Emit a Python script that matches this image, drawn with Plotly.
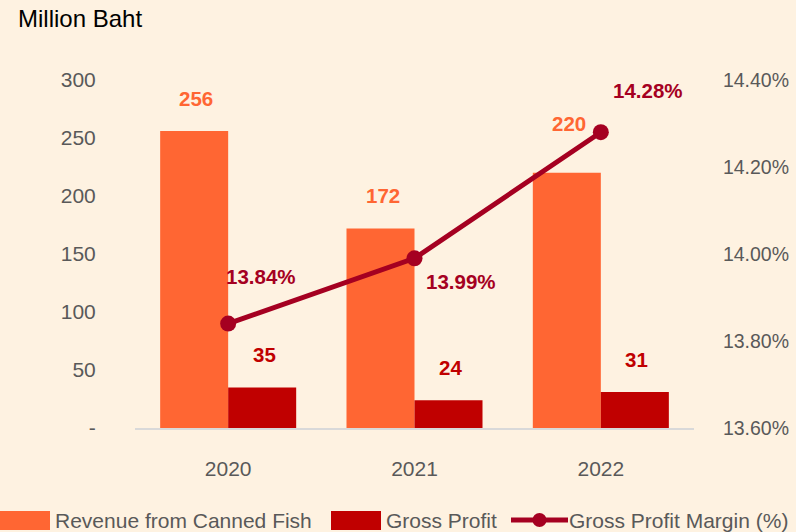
import plotly.graph_objects as go

years = ["2020", "2021", "2022"]
revenue = [256, 172, 220]
gross_profit = [35, 24, 31]
margin = [13.84, 13.99, 14.28]
left_ticks = [0, 50, 100, 150, 200, 250, 300]
left_tick_text = ["-", "50", "100", "150", "200", "250", "300"]
right_ticks = [13.6, 13.8, 14.0, 14.2, 14.4]
right_tick_text = ["13.60%", "13.80%", "14.00%", "14.20%", "14.40%"]

ORANGE = "#FF6633"
DARKRED = "#C00000"
LINE = "#A50021"
BG = "#FEF2E1"
GRAY = "#595959"
FONT = "Liberation Sans"
TICK_SIZE = 21
RIGHT_TICK_SIZE = 19.5
LABEL_SIZE = 20.5

fig = go.Figure()
fig.add_trace(go.Bar(x=years, y=revenue, name="Revenue from Canned Fish",
                     marker=dict(color=ORANGE, line=dict(width=0)), showlegend=False))
fig.add_trace(go.Bar(x=years, y=gross_profit, name="Gross Profit",
                     marker=dict(color=DARKRED, line=dict(width=0)), showlegend=False))
fig.add_trace(go.Scatter(x=years, y=margin, name="Gross Profit Margin (%)", yaxis="y2",
                         mode="lines+markers", line=dict(color=LINE, width=5),
                         marker=dict(color=LINE, size=16), showlegend=False))

W, H = 796, 532
ml, mr, mt, mb = 135, 102, 80, 104
pw, ph = W - ml - mr, H - mt - mb


def px_x(p):
    return (p - ml) / pw


def px_y(p):
    return (H - mb - p) / ph


ann = []
rev_yshift = [33, 33, 49]
for i, v in enumerate(revenue):
    ann.append(dict(x=i, y=v, xref="x", yref="y", text=f"<b>{v}</b>", showarrow=False,
                    xshift=-32, yshift=rev_yshift[i],
                    font=dict(color=ORANGE, size=LABEL_SIZE, family=FONT)))
for i, v in enumerate(gross_profit):
    ann.append(dict(x=i, y=v, xref="x", yref="y", text=f"<b>{v}</b>", showarrow=False,
                    xshift=36, yshift=33, font=dict(color=DARKRED, size=LABEL_SIZE, family=FONT)))
m_shift = [(33, 47), (46, -23), (47, 42)]
for i, (v, (dx, dy)) in enumerate(zip(margin, m_shift)):
    ann.append(dict(x=i, y=v, xref="x", yref="y2", text=f"<b>{v:.2f}%</b>", showarrow=False,
                    xshift=dx, yshift=dy, font=dict(color=LINE, size=LABEL_SIZE, family=FONT)))

ann.append(dict(x=px_x(16), y=px_y(19), xref="paper", yref="paper", text="Million Baht",
                showarrow=False, xanchor="left", yanchor="middle",
                font=dict(color="#000000", size=24, family=FONT)))

shapes = []
legend_items = [("rect", ORANGE, "Revenue from Canned Fish", 0, 50, 53),
                ("rect", DARKRED, "Gross Profit", 331, 381, 384),
                ("line", LINE, "Gross Profit Margin (%)", 511, 568, 567)]
for kind, col, text, x0, x1, tx in legend_items:
    if kind == "rect":
        shapes.append(dict(type="rect", xref="paper", yref="paper", x0=px_x(x0), x1=px_x(x1),
                           y0=px_y(530), y1=px_y(511), fillcolor=col, line=dict(width=0)))
    else:
        shapes.append(dict(type="line", xref="paper", yref="paper", x0=px_x(x0), x1=px_x(x1),
                           y0=px_y(520), y1=px_y(520), line=dict(color=col, width=5)))
        cx = (x0 + x1) / 2
        shapes.append(dict(type="circle", xref="paper", yref="paper", x0=px_x(cx - 7), x1=px_x(cx + 7),
                           y0=px_y(527), y1=px_y(513), fillcolor=col, line=dict(width=0)))
    ann.append(dict(x=px_x(tx), y=px_y(520), xref="paper", yref="paper", text=text, showarrow=False,
                    xanchor="left", yanchor="middle",
                    font=dict(color=GRAY, size=TICK_SIZE, family=FONT)))

fig.update_layout(
    width=W, height=H,
    margin=dict(l=ml, r=mr, t=mt, b=mb, autoexpand=False),
    paper_bgcolor=BG, plot_bgcolor=BG,
    barmode="group", bargap=0.27, bargroupgap=0,
    font=dict(family=FONT, color=GRAY, size=TICK_SIZE),
    xaxis=dict(type="category", range=[-0.5, 2.5], showgrid=False, showline=True,
               linecolor="#D9D9D9", linewidth=2, automargin=False,
               ticks="outside", ticklen=21, tickcolor="rgba(0,0,0,0)",
               tickfont=dict(size=TICK_SIZE, color=GRAY)),
    yaxis=dict(range=[0, 300], tickvals=left_ticks, ticktext=left_tick_text, showgrid=False,
               zeroline=False, showline=False, ticks="outside", ticklen=34, automargin=False,
               tickcolor="rgba(0,0,0,0)", tickfont=dict(size=TICK_SIZE, color=GRAY)),
    yaxis2=dict(range=[13.6, 14.4], tickvals=right_ticks, ticktext=right_tick_text,
                overlaying="y", side="right", showgrid=False, zeroline=False, showline=False,
                ticks="outside", ticklen=24, automargin=False, tickcolor="rgba(0,0,0,0)",
                tickfont=dict(size=RIGHT_TICK_SIZE, color=GRAY)),
    annotations=ann, shapes=shapes,
)

fig.write_html("out.html", config={"displayModeBar": False},
               post_script="document.body.style.margin='0';document.body.style.background='" + BG + "';")
